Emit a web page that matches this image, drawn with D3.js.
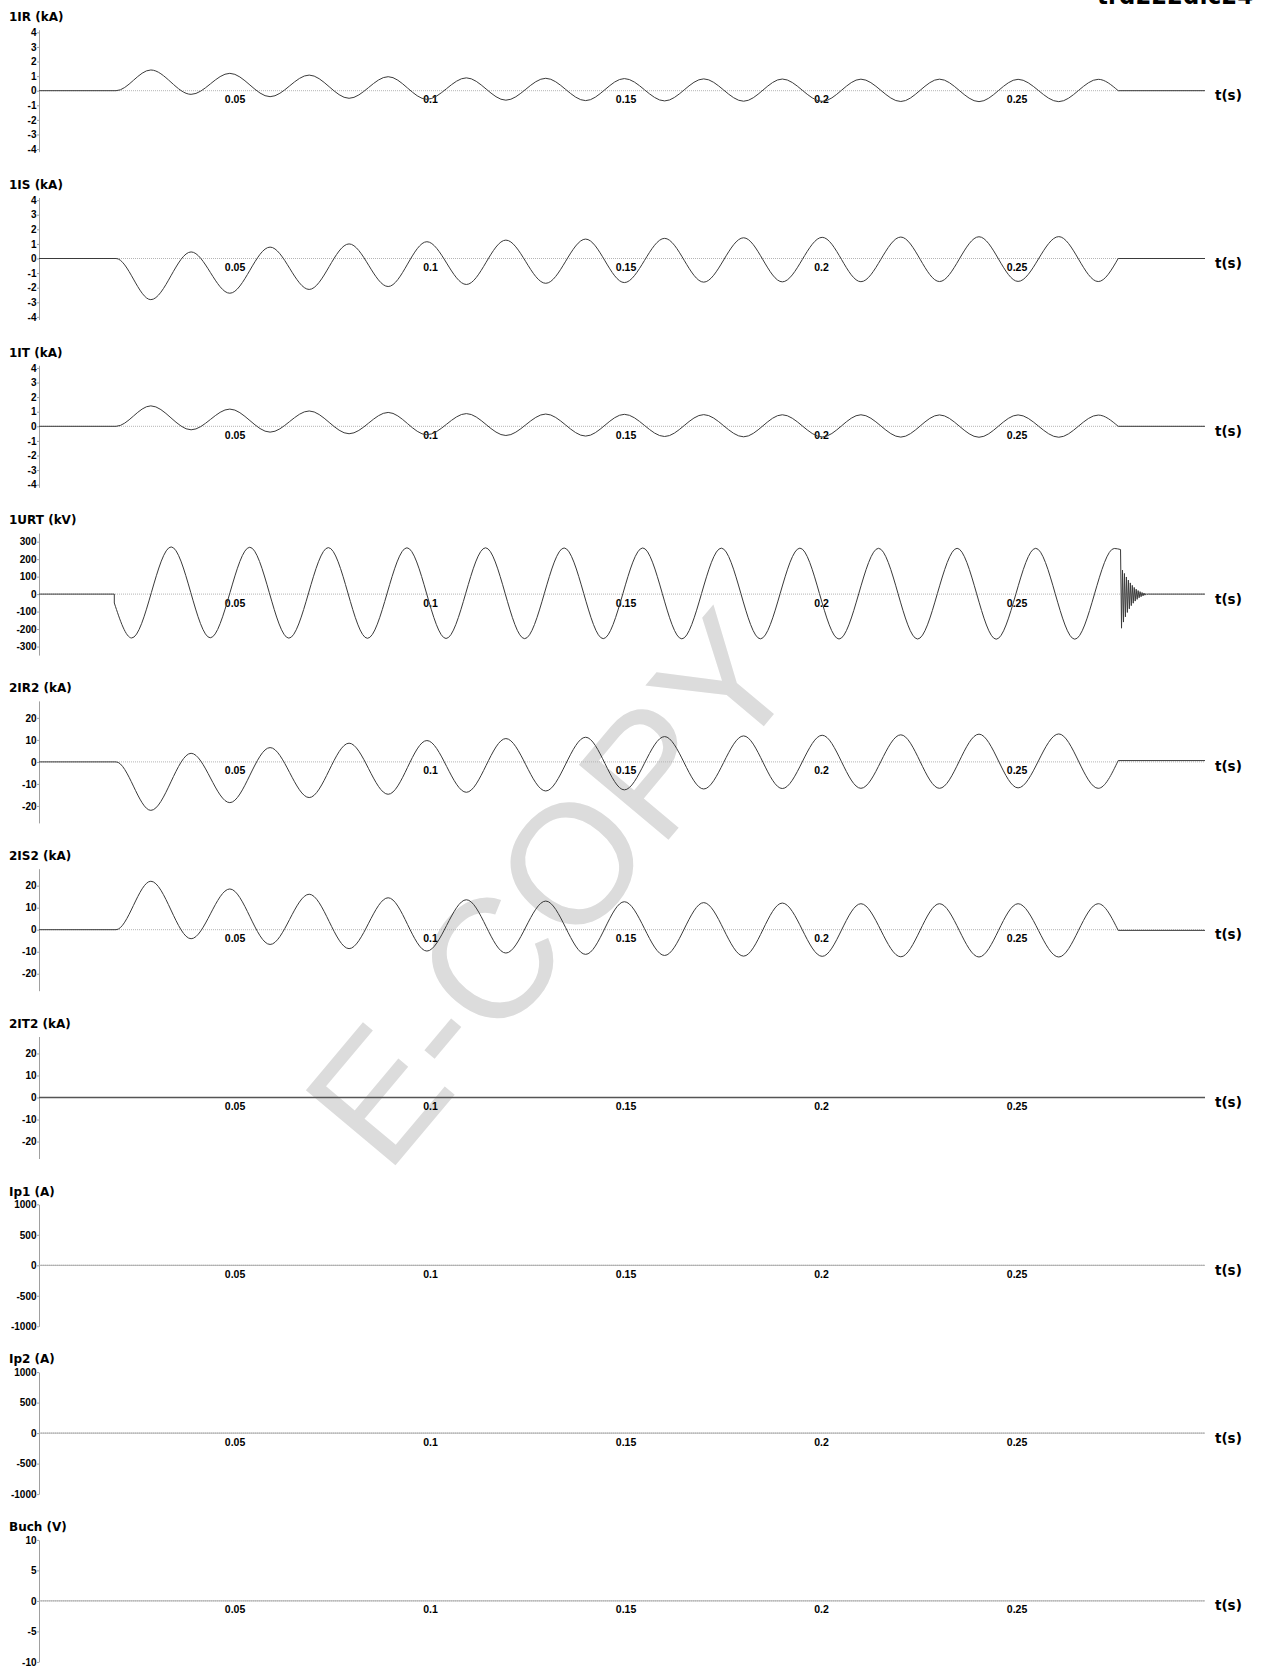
<!DOCTYPE html>
<html>
<head>
<meta charset="utf-8">
<script src="https://cdn.jsdelivr.net/npm/d3@7/dist/d3.min.js"></script>
<style>
	body{margin:0;background:#fff;}
	svg{display:block;}
</style>
</head>
<body>
<div id="chart"></div>
<script>
// time axis (s)
const timeTicks=[0.05,0.1,0.15,0.2,0.25];
const tEnd=0.2982;
const faultStart=0.0197;
const faultEnd=0.2760;

// times of the current peaks (s), shared by all current channels
const peakTimes=[0.0286,0.0389,0.0488,0.0591,0.0691,0.0793,0.0893,0.0992,0.1093,0.1194,0.1296,0.1398,0.1497,
	0.1600,0.1700,0.1802,0.1901,0.2003,0.2102,0.2204,0.2303,0.2404,0.2504,0.2608,0.2709];

// peak values of each current (kA)
const ir1=[1.42,-0.25,1.19,-0.41,1.07,-0.52,0.96,-0.59,0.88,-0.65,0.85,-0.68,0.83,-0.70,0.81,-0.72,0.80,-0.73,0.79,-0.74,0.79,-0.75,0.78,-0.75,0.78];
const is1=[-2.82,0.45,-2.38,0.78,-2.12,1.00,-1.92,1.15,-1.78,1.26,-1.70,1.33,-1.65,1.38,-1.62,1.42,-1.60,1.45,-1.59,1.47,-1.58,1.49,-1.57,1.50,-1.58];
const it1=[1.40,-0.24,1.18,-0.40,1.05,-0.51,0.95,-0.58,0.87,-0.63,0.84,-0.67,0.82,-0.70,0.80,-0.72,0.79,-0.73,0.79,-0.74,0.78,-0.75,0.78,-0.75,0.77];
const ir2=[-22.0,3.9,-18.5,6.5,-16.2,8.5,-14.7,9.7,-13.8,10.6,-13.2,11.2,-12.7,11.5,-12.3,11.8,-12.1,12.1,-12.0,12.3,-12.0,12.6,-11.8,12.7,-12.0];
const is2=[22.0,-4.1,18.5,-6.7,16.1,-8.6,14.5,-9.7,13.6,-10.6,13.0,-11.2,12.7,-11.7,12.3,-12.0,12.1,-12.1,11.8,-12.3,11.8,-12.4,11.8,-12.4,11.8];
// level left after the breaker opened (kA)
const ir2After=0.6;
const is2After=-0.3;

// voltage 1URT: peaks (s, kV)
const urtStart=[0.01926,-51];
const urtTimes=[0.0237,0.0338,0.0438,0.0539,0.0639,0.0740,0.0840,0.0941,0.1041,0.1142,0.1242,0.1343,0.1443,
	0.1544,0.1644,0.1745,0.1845,0.1946,0.2046,0.2147,0.2247,0.2348,0.2448,0.2549,0.2649,0.2750];
const urtValues=[-251,270,-250,268,-252,266,-253,265,-254,265,-255,264,-255,264,-256,263,-256,263,-257,262,-257,262,-258,262,-258,261];
// ringing after opening
const ringTimes=[0.27660,0.27685,0.27710,0.27735,0.27760,0.27785,0.27810,0.27835,0.27860,0.27885,0.27910,0.27935,0.27960,0.27985,0.28010,
	0.28035,0.28060,0.28085,0.28110,0.28135,0.28160,0.28185,0.28210,0.28235,0.28260,0.28285,0.28310,0.28335,0.28360,0.28385];
const ringValues=[255,-195,137,-160,118,-130,98,-105,80,-84,64,-66,50,-52,38,-40,28,-30,20,-21,14,-15,9,-10,6,-6,3,-3,1,0];

// channel names and tick labels
const channelNames=["1IR (kA)","1IS (kA)","1IT (kA)","1URT (kV)","2IR2 (kA)","2IS2 (kA)","2IT2 (kA)","Ip1 (A)","Ip2 (A)","Buch (V)"];
const ticksKA1=[4,3,2,1,0,-1,-2,-3,-4];
const ticksKV=[300,200,100,0,-100,-200,-300];
const ticksKA2=[20,10,0,-10,-20];
const ticksA=[1000,500,0,-500,-1000];
const ticksV=[10,5,0,-5,-10];
const fileName="trd222d.c24";

const chart=
{
	currentSegments: function (values,after)
	{
		//pre-fault + oscillation (smooth), then the flat tail
		const wave=[[0,0],[faultStart,0]].concat(peakTimes.map((t,i)=>[t,values[i]]));
		wave.push([faultEnd,after]);
		return [
			{pts:wave,curve:d3.curveMonotoneX},
			{pts:[[faultEnd,after],[tEnd,after]],curve:d3.curveLinear}
		];
	},
	voltageSegments: function ()
	{
		const main=[urtStart].concat(urtTimes.map((t,i)=>[t,urtValues[i]]));
		main.push([ringTimes[0],ringValues[0]]);
		const ring=ringTimes.map((t,i)=>[t,ringValues[i]]);
		return [
			{pts:[[0,0],[urtStart[0],0],urtStart],curve:d3.curveLinear},
			{pts:main,curve:d3.curveMonotoneX},
			{pts:ring,curve:d3.curveLinear},
			{pts:[[ringTimes[ringTimes.length-1],0],[tEnd,0]],curve:d3.curveLinear}
		];
	},
	flat: function ()
	{
		return [{pts:[[0,0],[tEnd,0]],curve:d3.curveLinear}];
	},
	draw: function ()
	{
		const w=1263;
		const h=1668;
		const panels=[
			{ticks:ticksKA1,yMax:4.18,segs:this.currentSegments(ir1,0)},
			{ticks:ticksKA1,yMax:4.18,segs:this.currentSegments(is1,0)},
			{ticks:ticksKA1,yMax:4.18,segs:this.currentSegments(it1,0)},
			{ticks:ticksKV,yMax:349,segs:this.voltageSegments()},
			{ticks:ticksKA2,yMax:27.7,segs:this.currentSegments(ir2,ir2After)},
			{ticks:ticksKA2,yMax:27.7,segs:this.currentSegments(is2,is2After)},
			{ticks:ticksKA2,yMax:27.7,segs:this.flat(),stroke:"#555",width:1.3},
			{ticks:ticksA,yMax:1000,segs:this.flat(),stroke:"#aaa",width:1},
			{ticks:ticksA,yMax:1000,segs:this.flat(),stroke:"#aaa",width:1},
			{ticks:ticksV,yMax:10,segs:this.flat(),stroke:"#aaa",width:1}
		];

		const svg=d3.select("#chart")
		.append("svg")
		.attr("width",w)
		.attr("height",h);

		svg.append("rect").attr("width",w).attr("height",h).attr("fill","#fff");

		//watermark
		svg.append("text")
		.attr("transform","translate(549,887) rotate(-50)")
		.attr("text-anchor","middle")
		.attr("dy","0.36em")
		.style("font-family","'Liberation Sans',Arial,sans-serif")
		.style("font-size","170px")
		.attr("fill","#dcdcdc")
		.text("E-COPY");

		//file name, mostly cut off at the top
		svg.append("text")
		.attr("x",1253)
		.attr("y",4)
		.attr("text-anchor","end")
		.attr("textLength",156)
		.attr("lengthAdjust","spacingAndGlyphs")
		.style("font-family","'DejaVu Sans',sans-serif")
		.style("font-weight","bold")
		.style("font-size","24px")
		.text(fileName);

		const x=d3.scaleLinear().domain([0,tEnd]).range([39,1205]);

		panels.forEach((p,i)=>
		{
			const zero=90.7+167.8*i;
			const y=d3.scaleLinear().domain([-p.yMax,p.yMax]).range([zero+61,zero-61]);
			const g=svg.append("g");

			//title
			g.append("text")
			.attr("x",9)
			.attr("y",zero-69.7)
			.style("font-family","'DejaVu Sans',Verdana,sans-serif")
			.style("font-weight","bold")
			.style("font-size","12px")
			.text(channelNames[i]);

			//zero line
			g.append("line")
			.attr("x1",x(0)).attr("x2",x(tEnd))
			.attr("y1",y(0)).attr("y2",y(0))
			.attr("stroke","#b4b4b4")
			.attr("stroke-dasharray","1,1");

			// Y axis
			const yAxis=d3.axisLeft(y)
			.tickValues(p.ticks)
			.tickSize(2)
			.tickSizeOuter(0)
			.tickPadding(0.5)
			.tickFormat((d)=> d);
			const ya=g.append("g")
			.attr("transform","translate("+x(0)+",0)")
			.call(yAxis);
			ya.select(".domain").attr("stroke","#a0a0a0");
			ya.selectAll(".tick line").attr("stroke","#a0a0a0");
			ya.selectAll("text")
			.style("font-family","'Liberation Sans',Arial,sans-serif")
			.style("font-weight","bold")
			.style("font-size","10px")
			.attr("fill","#000");

			// X axis (labels under the zero line)
			const xAxis=d3.axisBottom(x)
			.tickValues(timeTicks)
			.tickSize(0)
			.tickPadding(5)
			.tickFormat((d)=> d);
			const xa=g.append("g")
			.attr("transform","translate(0,"+y(0)+")")
			.call(xAxis);
			xa.select(".domain").remove();
			xa.selectAll("text")
			.style("font-family","'Liberation Sans',Arial,sans-serif")
			.style("font-weight","bold")
			.style("font-size","10.5px")
			.attr("fill","#000");

			g.append("text")
			.attr("x",1215)
			.attr("y",zero+9.5)
			.style("font-family","'DejaVu Sans',Verdana,sans-serif")
			.style("font-weight","bold")
			.style("font-size","13.5px")
			.text("t(s)");

			//signal
			p.segs.forEach((s)=>
			{
				const line=d3.line()
				.x((d)=> x(d[0]))
				.y((d)=> y(d[1]))
				.curve(s.curve);
				g.append("path")
				.attr("d",line(s.pts))
				.attr("fill","none")
				.attr("stroke",p.stroke || "#3a3a3a")
				.attr("stroke-width",p.width || 1);
			});
		});
	}
};

document.addEventListener("DOMContentLoaded",function ()
{
	chart.draw();
});
</script>
</body>
</html>
